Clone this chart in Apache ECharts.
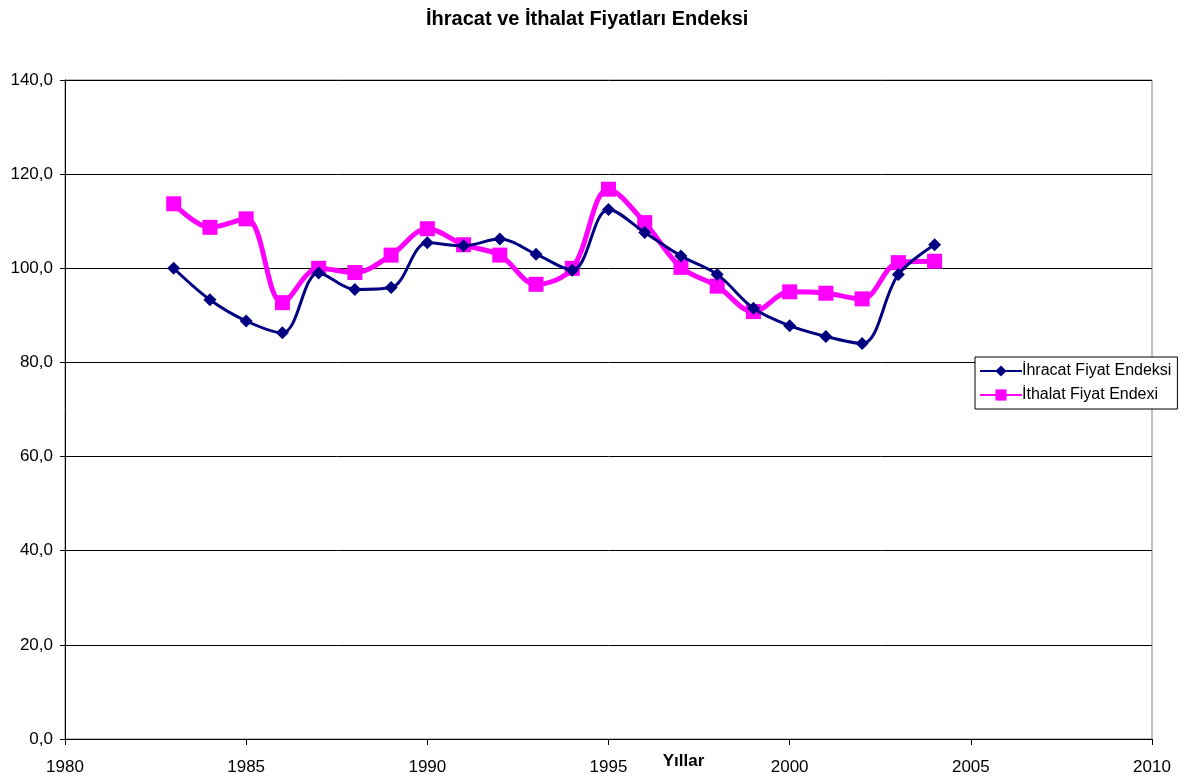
<!DOCTYPE html>
<html><head><meta charset="utf-8">
<script src="https://cdn.jsdelivr.net/npm/echarts@6/dist/echarts.min.js"></script>
<style>html,body{margin:0;padding:0;background:#fff}#c{width:1194px;height:783px}</style>
</head><body><div id="c"></div>
<script>
const years = [1983,1984,1985,1986,1987,1988,1989,1990,1991,1992,1993,1994,1995,1996,1997,1998,1999,2000,2001,2002,2003,2004];
const ihracat = [100.0,93.3,88.8,86.3,99.0,95.5,95.9,105.4,104.8,106.2,103.0,99.6,112.5,107.6,102.6,98.7,91.5,87.8,85.5,84.0,98.7,105.0];
const ithalat = [113.7,108.7,110.5,92.7,100.0,99.1,102.8,108.4,105.0,102.8,96.6,100.0,116.8,109.7,100.2,96.2,90.8,95.0,94.7,93.5,101.2,101.5];
const titleText = 'İhracat ve İthalat Fiyatları Endeksi';
const names = ['İhracat Fiyat Endeksi','İthalat Fiyat Endexi'];
const font = 'Liberation Sans, Arial, sans-serif';
const chart = echarts.init(document.getElementById('c'));
chart.setOption({
  animation:false,
  title:{text:titleText,left:421,top:4,textStyle:{fontFamily:font,fontSize:20,fontWeight:'bold',color:'#000'}},
  grid:{left:65,right:42,top:80,bottom:44,outerBoundsMode:'none',containLabel:false,show:true,borderColor:'#808080',borderWidth:1,backgroundColor:'#fff'},
  legend:{orient:'vertical',left:975,top:357,borderColor:'#000',borderWidth:1,backgroundColor:'#fff',padding:[6,6,6,4],itemGap:8,itemWidth:42,itemHeight:14,
    textStyle:{fontFamily:font,fontSize:16,color:'#000',padding:[0,0,0,-5]},data:names},
  xAxis:{type:'value',min:1980,max:2010,interval:5,
    name:'Yıllar',nameLocation:'middle',nameGap:14,nameMoveOverlap:false,nameTextStyle:{fontFamily:font,fontSize:17,fontWeight:'bold',color:'#000',padding:[0,0,0,150]},
    axisLine:{lineStyle:{color:'#000'}},axisTick:{show:true,inside:false,length:6,lineStyle:{color:'#000'}},
    axisLabel:{fontFamily:font,fontSize:17,color:'#000',margin:20,formatter:v=>String(v)},splitLine:{show:false}},
  yAxis:{type:'value',min:0,max:140,interval:20,
    axisLine:{show:true,lineStyle:{color:'#000'}},axisTick:{show:true,length:5,lineStyle:{color:'#000'}},
    axisLabel:{fontFamily:font,fontSize:17,color:'#000',margin:12,formatter:v=>v.toFixed(1).replace('.',',')},
    splitLine:{show:true,lineStyle:{color:'#000',width:1}}},
  series:[
    {name:names[0],type:'line',smooth:0.35,data:years.map((y,i)=>[y,ihracat[i]]),
     symbol:'diamond',symbolSize:13,itemStyle:{color:'#000080'},lineStyle:{color:'#000080',width:3},z:3},
    {name:names[1],type:'line',smooth:0.35,data:years.map((y,i)=>[y,ithalat[i]]),
     symbol:'rect',symbolSize:15,itemStyle:{color:'#FF00FF'},lineStyle:{color:'#FF00FF',width:5},z:2}
  ]
});
</script></body></html>
